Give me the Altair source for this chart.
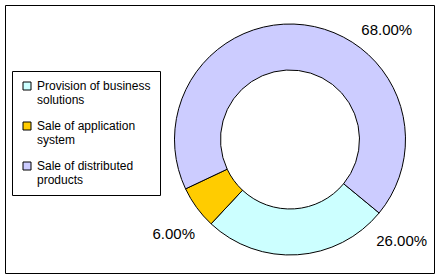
import altair as alt
import pandas as pd
import math

# ---- data ----
categories = ["Provision of business solutions", "Sale of application system", "Sale of distributed products"]
shares = [0.26, 0.06, 0.68]
colors = ["#CCFFFF", "#FFCC00", "#CCCCFF"]

# ---- layout / style (Excel-like label placement) ----
LABEL_ANGLE_DEG = [132.3, 230.8, 41.5]
LABEL_RADIUS = [151, 150, 146]
START_DEG = 129.5
CX, CY = 285, 134.5
FONT = "Liberation Sans"

df = pd.DataFrame({
    "category": categories,
    "share": shares,
    "order": list(range(len(categories))),
    "lab_theta": [math.radians(a) for a in LABEL_ANGLE_DEG],
    "lab_r": LABEL_RADIUS,
})

start = math.radians(START_DEG)
base = alt.Chart(df)

arcs = base.mark_arc(innerRadius=69.5, outerRadius=115.5, stroke="black", strokeWidth=1).encode(
    theta=alt.Theta("share:Q", stack=True, scale=alt.Scale(range=[start, start + 2 * math.pi])),
    order=alt.Order("order:Q"),
    color=alt.Color(
        "category:N",
        scale=alt.Scale(domain=categories, range=colors),
        legend=alt.Legend(
            title=None,
            orient="none",
            legendX=7,
            legendY=66,
            strokeColor="black",
            fillColor="white",
            padding=9,
            symbolType="square",
            symbolSize=64,
            symbolStrokeColor="black",
            symbolStrokeWidth=1,
            symbolOpacity=1,
            labelFont=FONT,
            labelFontSize=12,
            labelColor="black",
            labelOffset=4,
            labelLimit=300,
            rowPadding=14,
            labelExpr="[substring(datum.label, 0, lastindexof(datum.label, ' ')), substring(datum.label, lastindexof(datum.label, ' ') + 1)]",
        ),
    ),
    x=alt.value(CX),
    y=alt.value(CY),
)

labels = base.mark_text(font=FONT, fontSize=15, color="black", align="center", baseline="middle").encode(
    theta=alt.Theta("lab_theta:Q", scale=None),
    radius=alt.Radius("lab_r:Q", scale=None),
    text=alt.Text("share:Q", format=".2%"),
    x=alt.value(CX),
    y=alt.value(CY),
)

chart = (arcs + labels).properties(
    width=429,
    height=268,
    autosize=alt.AutoSizeParams(type="none"),
    padding={"left": 5, "top": 5, "right": 6, "bottom": 6},
    background="white",
).configure_view(stroke="black", strokeWidth=1)

chart.save("out.html", embed_options={"renderer": "svg", "actions": False})
